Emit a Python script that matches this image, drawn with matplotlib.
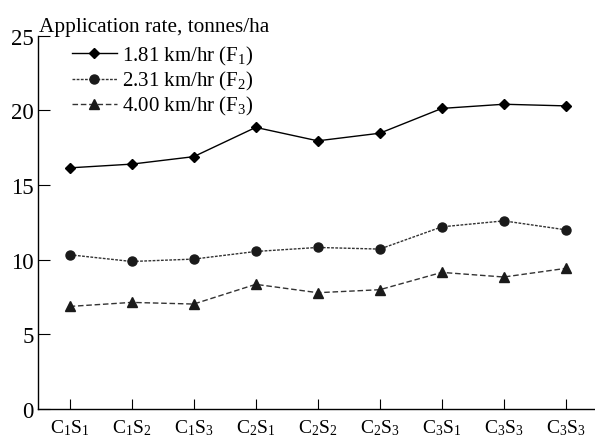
import matplotlib
matplotlib.use("Agg")
import matplotlib.pyplot as plt

plt.rcParams["font.family"] = ["Liberation Serif", "DejaVu Serif"]
plt.rcParams["mathtext.fontset"] = "custom"
plt.rcParams["mathtext.rm"] = "Liberation Serif"

# combinations on x axis (as printed in the source, C3S3 appears twice)
labels = [r"$\mathregular{C_1S_1}$", r"$\mathregular{C_1S_2}$", r"$\mathregular{C_1S_3}$",
          r"$\mathregular{C_2S_1}$", r"$\mathregular{C_2S_2}$", r"$\mathregular{C_2S_3}$",
          r"$\mathregular{C_3S_1}$", r"$\mathregular{C_3S_3}$", r"$\mathregular{C_3S_3}$"]

f1 = [16.15, 16.4, 16.9, 18.86, 17.96, 18.47, 20.13, 20.41, 20.3]
f2 = [10.33, 9.88, 10.04, 10.55, 10.82, 10.71, 12.2, 12.6, 12.0]
f3 = [6.87, 7.14, 7.03, 8.35, 7.79, 7.99, 9.15, 8.84, 9.42]

x = list(range(len(labels)))

fig = plt.figure(figsize=(5.95, 4.39), dpi=100)
ax = fig.add_axes([0.0639, 0.066, 0.9361, 0.8504])

ax.plot(x, f1, color="black", lw=1.0, marker="D", ms=5.5,
        label=r"1.81 km/hr ($\mathregular{F_1}$)")
ax.plot(x, f2, color="#333333", lw=1.0, ls=(0, (2, 1)), marker="o", ms=6.5,
        mfc="#1a1a1a", mec="#1a1a1a", label=r"2.31 km/hr ($\mathregular{F_2}$)")
ax.plot(x, f3, color="#333333", lw=1.0, ls=(0, (4, 2)), marker="^", ms=6.5,
        mfc="#1a1a1a", mec="#1a1a1a", label=r"4.00 km/hr ($\mathregular{F_3}$)")

ax.set_xlim(-0.51, 8.47)
ax.set_ylim(0, 25)
ax.set_yticks([0, 5, 10, 15, 20, 25])
ax.set_xticks(x)
ax.set_xticklabels(labels)

for s in ["top", "right"]:
    ax.spines[s].set_visible(False)
for s in ["left", "bottom"]:
    ax.spines[s].set_linewidth(1.0)

ax.tick_params(axis="y", direction="in", length=8.5, width=0.8, pad=3, labelsize=16.5)
ax.tick_params(axis="x", direction="in", length=7, width=0.8, pad=6, labelsize=14)

fig.text(0.066, 0.928, "Application rate, tonnes/ha", fontsize=15.3, ha="left", va="baseline")

ax.legend(loc="upper left", bbox_to_anchor=(0.121, 0.897), bbox_transform=fig.transFigure,
          frameon=False, fontsize=15, handlelength=2.15, handletextpad=0.25,
          labelspacing=0.1, borderaxespad=0, borderpad=0)

fig.savefig("out.png", dpi=100)
